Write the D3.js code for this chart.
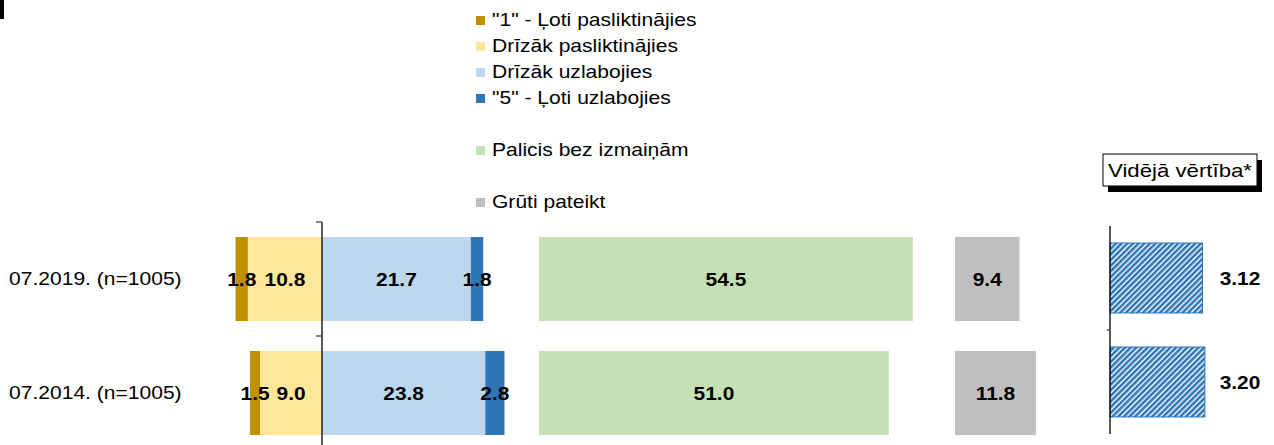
<!DOCTYPE html>
<html><head><meta charset="utf-8">
<script src="https://cdn.jsdelivr.net/npm/d3@7/dist/d3.min.js"></script>
<style>body{margin:0;background:#fff;} svg{display:block;font-family:"Liberation Sans",Arial,sans-serif;}</style>
</head><body><div id="chart"></div>
<script>
const categories = ["07.2019. (n=1005)", "07.2014. (n=1005)"];
const veryWorse = [1.8, 1.5];
const ratherWorse = [10.8, 9.0];
const ratherBetter = [21.7, 23.8];
const veryBetter = [1.8, 2.8];
const noChange = [54.5, 51.0];
const hardToSay = [9.4, 11.8];
const meanValues = [3.12, 3.20];
const meanLabels = ["3.12", "3.20"];
const legendLabels = ["\"1\" - Ļoti pasliktinājies", "Drīzāk pasliktinājies", "Drīzāk uzlabojies", "\"5\" - Ļoti uzlabojies", "Palicis bez izmaiņām", "Grūti pateikt"];
const legendColors = ["#BF9000", "#FFE699", "#BDD7EE", "#2E75B6", "#C5E0B4", "#BFBFBF"];
const meanTitle = "Vidējā vērtība*";

const W = 1274, H = 445, K = 6.86;
const svg = d3.select("#chart").append("svg").attr("width", W).attr("height", H);

function txt(g, x, y, s, opts) {
  opts = opts || {};
  const sx = opts.sx || 1.17;
  return g.append("text")
    .attr("transform", `translate(${x},${y}) scale(${sx},1)`)
    .attr("text-anchor", opts.anchor || "start")
    .attr("dy", opts.dy || "0.35em")
    .attr("font-size", opts.size || 18)
    .attr("font-weight", opts.bold ? "bold" : "normal")
    .attr("fill", "#000")
    .text(s);
}

// hatch pattern
const defs = svg.append("defs");
const pat = defs.append("pattern").attr("id", "hatch").attr("patternUnits", "userSpaceOnUse")
  .attr("width", 4).attr("height", 4).attr("patternTransform", "rotate(45)");
pat.append("rect").attr("width", 4).attr("height", 4).attr("fill", "#fff");
pat.append("rect").attr("width", 2.6).attr("height", 4).attr("fill", "#2E75B6");

// top-left mark
svg.append("rect").attr("x", 0).attr("y", 0).attr("width", 4).attr("height", 19).attr("fill", "#000");

// scales
const zeroX = 322;
const xDiv = d3.scaleLinear().domain([-20, 40]).range([zeroX - 20 * K, zeroX + 40 * K]);
const xGreen = d3.scaleLinear().domain([0, 60]).range([539, 539 + 60 * K]);
const xGrey = d3.scaleLinear().domain([0, 15]).range([955, 955 + 15 * K]);
const xMean = d3.scaleLinear().domain([0, 5]).range([1110, 1110 + 5 * 29.65]);
const yMain = d3.scaleBand().domain(categories).range([222, 450]).paddingInner(0.263).paddingOuter(0.1316);
const yMean = d3.scaleBand().domain(categories).range([226, 434]).paddingInner(0.327).paddingOuter(0.1635);

const g = svg.append("g");
const f1 = d3.format(".1f");
const bopt = {anchor: "middle", bold: true, size: 19, sx: 1.1};

categories.forEach((c, i) => {
  const y = yMain(c), h = yMain.bandwidth(), cy = y + h / 2;
  const segs = [
    {x0: -(ratherWorse[i] + veryWorse[i]), x1: -ratherWorse[i], v: veryWorse[i], col: legendColors[0]},
    {x0: -ratherWorse[i], x1: 0, v: ratherWorse[i], col: legendColors[1]},
    {x0: 0, x1: ratherBetter[i], v: ratherBetter[i], col: legendColors[2]},
    {x0: ratherBetter[i], x1: ratherBetter[i] + veryBetter[i], v: veryBetter[i], col: legendColors[3]}
  ];
  segs.forEach(s => {
    g.append("rect").attr("x", xDiv(s.x0)).attr("y", y).attr("width", xDiv(s.x1) - xDiv(s.x0)).attr("height", h).attr("fill", s.col);
  });
  segs.forEach(s => {
    txt(g, (xDiv(s.x0) + xDiv(s.x1)) / 2, cy, f1(s.v), bopt);
  });
  g.append("rect").attr("x", xGreen(0)).attr("y", y).attr("width", xGreen(noChange[i]) - xGreen(0)).attr("height", h).attr("fill", legendColors[4]);
  txt(g, (xGreen(0) + xGreen(noChange[i])) / 2, cy, f1(noChange[i]), bopt);
  g.append("rect").attr("x", xGrey(0)).attr("y", y).attr("width", xGrey(hardToSay[i]) - xGrey(0)).attr("height", h).attr("fill", legendColors[5]);
  txt(g, (xGrey(0) + xGrey(hardToSay[i])) / 2, cy, f1(hardToSay[i]), bopt);
  txt(g, 9, cy, c);
  const my = yMean(c), mh = yMean.bandwidth();
  g.append("rect").attr("x", xMean(0)).attr("y", my).attr("width", xMean(meanValues[i]) - xMean(0)).attr("height", mh)
    .attr("fill", "url(#hatch)").attr("stroke", "#2E75B6").attr("stroke-width", 1);
  txt(g, 1240, my + mh / 2, meanLabels[i], bopt);
});

// main axis
g.append("line").attr("x1", zeroX).attr("x2", zeroX).attr("y1", 222).attr("y2", 450).attr("stroke", "#000").attr("stroke-width", 1.3);
[222, 222 + yMain.step()].forEach(t => {
  g.append("line").attr("x1", zeroX - 6).attr("x2", zeroX).attr("y1", t).attr("y2", t).attr("stroke", "#404040").attr("stroke-width", 1.3);
});
// mean axis
g.append("line").attr("x1", xMean(0)).attr("x2", xMean(0)).attr("y1", 226).attr("y2", 434).attr("stroke", "#000").attr("stroke-width", 1.3);
g.append("line").attr("x1", xMean(0) - 3).attr("x2", xMean(0)).attr("y1", 226 + yMean.step()).attr("y2", 226 + yMean.step()).attr("stroke", "#404040").attr("stroke-width", 1.3);

// legend
const legBase = [26, 52, 78, 104, 156, 208];
legendLabels.forEach((l, i) => {
  svg.append("rect").attr("x", 476).attr("y", legBase[i] - 10).attr("width", 9).attr("height", 9).attr("fill", legendColors[i]);
  txt(svg, 492, legBase[i], l, {dy: "0"});
});

// mean title box
svg.append("rect").attr("x", 1108).attr("y", 160).attr("width", 154).attr("height", 32).attr("fill", "#000");
svg.append("rect").attr("x", 1103).attr("y", 154).attr("width", 154).attr("height", 32).attr("fill", "#fff").attr("stroke", "#000").attr("stroke-width", 1);
txt(svg, 1180, 170, meanTitle, {anchor: "middle", size: 19});
</script></body></html>
